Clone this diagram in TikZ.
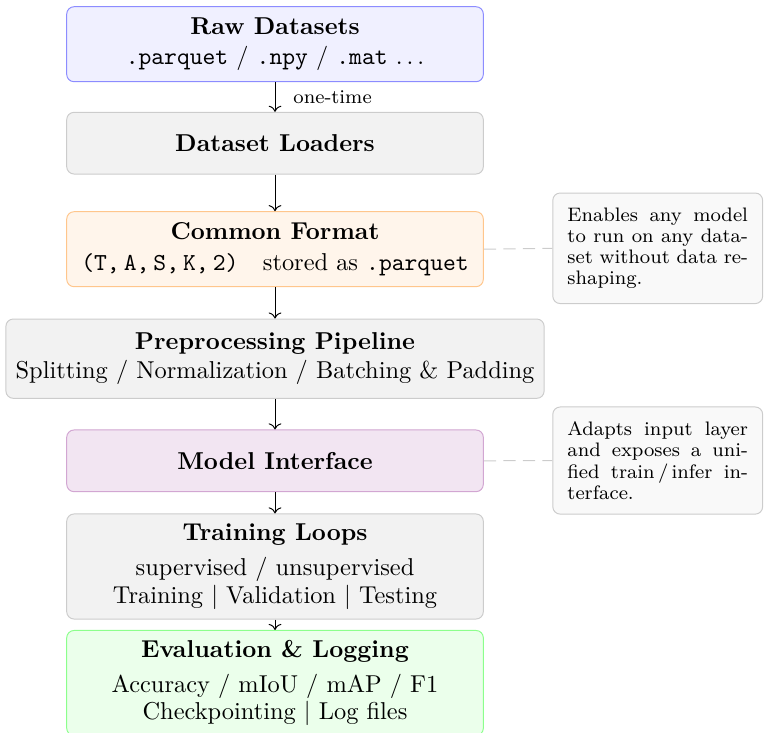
\documentclass[tikz,border=0pt]{standalone}
\usetikzlibrary{arrows.meta}

\tikzset{
  stage/.style={draw, rounded corners=3pt, minimum width=6cm, inner sep=4pt,
    align=center, font=\fontsize{10}{11.2}\selectfont},
  note/.style={draw=gray!40, fill=gray!5, rounded corners=3pt, text width=2.6cm,
    inner sep=6pt, align=justify, anchor=west, font=\fontsize{8}{8.7}\selectfont},
  link/.style={draw=gray!40, dash pattern=on 5pt off 3pt},
}

\begin{document}
\begin{tikzpicture}
\useasboundingbox (0,0) rectangle (11.018,-10.557);

% pipeline stages
\node[stage, fill=blue!6, draw=blue!45, minimum height=1.08cm] (raw) at (3.961,-0.637)
  {\textbf{Raw Datasets}\\[1.4pt] \texttt{.parquet} / \texttt{.npy} / \texttt{.mat} $\ldots$};
\node[stage, fill=gray!10, draw=gray!40, minimum height=0.889cm] (loaders) at (3.961,-2.062)
  {\textbf{Dataset Loaders}};
\node[stage, fill=orange!8, draw=orange!45, minimum height=1.08cm] (common) at (3.961,-3.589)
  {\textbf{Common Format}\\[1.8pt] \texttt{(T,\,A,\,S,\,K,\,2)}\quad stored as \texttt{.parquet}};
\node[stage, fill=gray!10, draw=gray!40, minimum height=1.142cm] (prep) at (3.961,-5.166)
  {\textbf{Preprocessing Pipeline}\\[0.4pt] Splitting / Normalization / Batching \& Padding};
\node[stage, fill=violet!10, draw=violet!35, minimum height=0.889cm] (model) at (3.961,-6.637)
  {\textbf{Model Interface}};
\node[stage, fill=gray!10, draw=gray!40, minimum height=1.463cm] (train) at (3.961,-8.159)
  {\textbf{Training Loops}\\[3.3pt] supervised / unsupervised\\ Training $|$ Validation $|$ Testing};
\node[stage, fill=green!8, draw=green!45, minimum height=1.436cm] (eval) at (3.961,-9.837)
  {\textbf{Evaluation \& Logging}\\[3.1pt] Accuracy / mIoU / mAP / F1\\ Checkpointing $|$ Log files};

% side notes
\node[note, minimum height=1.537cm] (note1) at (7.955,-3.576)
  {Enables any model to run on any data\-set without data re\-shaping.};
\node[note, minimum height=1.475cm] (note2) at (7.955,-6.633)
  {Adapts input layer and exposes a unified train\,/\,infer interface.};

\draw[->] (raw) -- (loaders) node[midway, right=4pt, font=\footnotesize] {one-time};
\draw[->] (loaders) -- (common);
\draw[->] (common) -- (prep);
\draw[->] (prep) -- (model);
\draw[->] (model) -- (train);
\draw[->] (train) -- (eval);

\draw[link] (common.east) -- (note1.west);
\draw[link] (model.east) -- (note2.west);

\end{tikzpicture}
\end{document}
